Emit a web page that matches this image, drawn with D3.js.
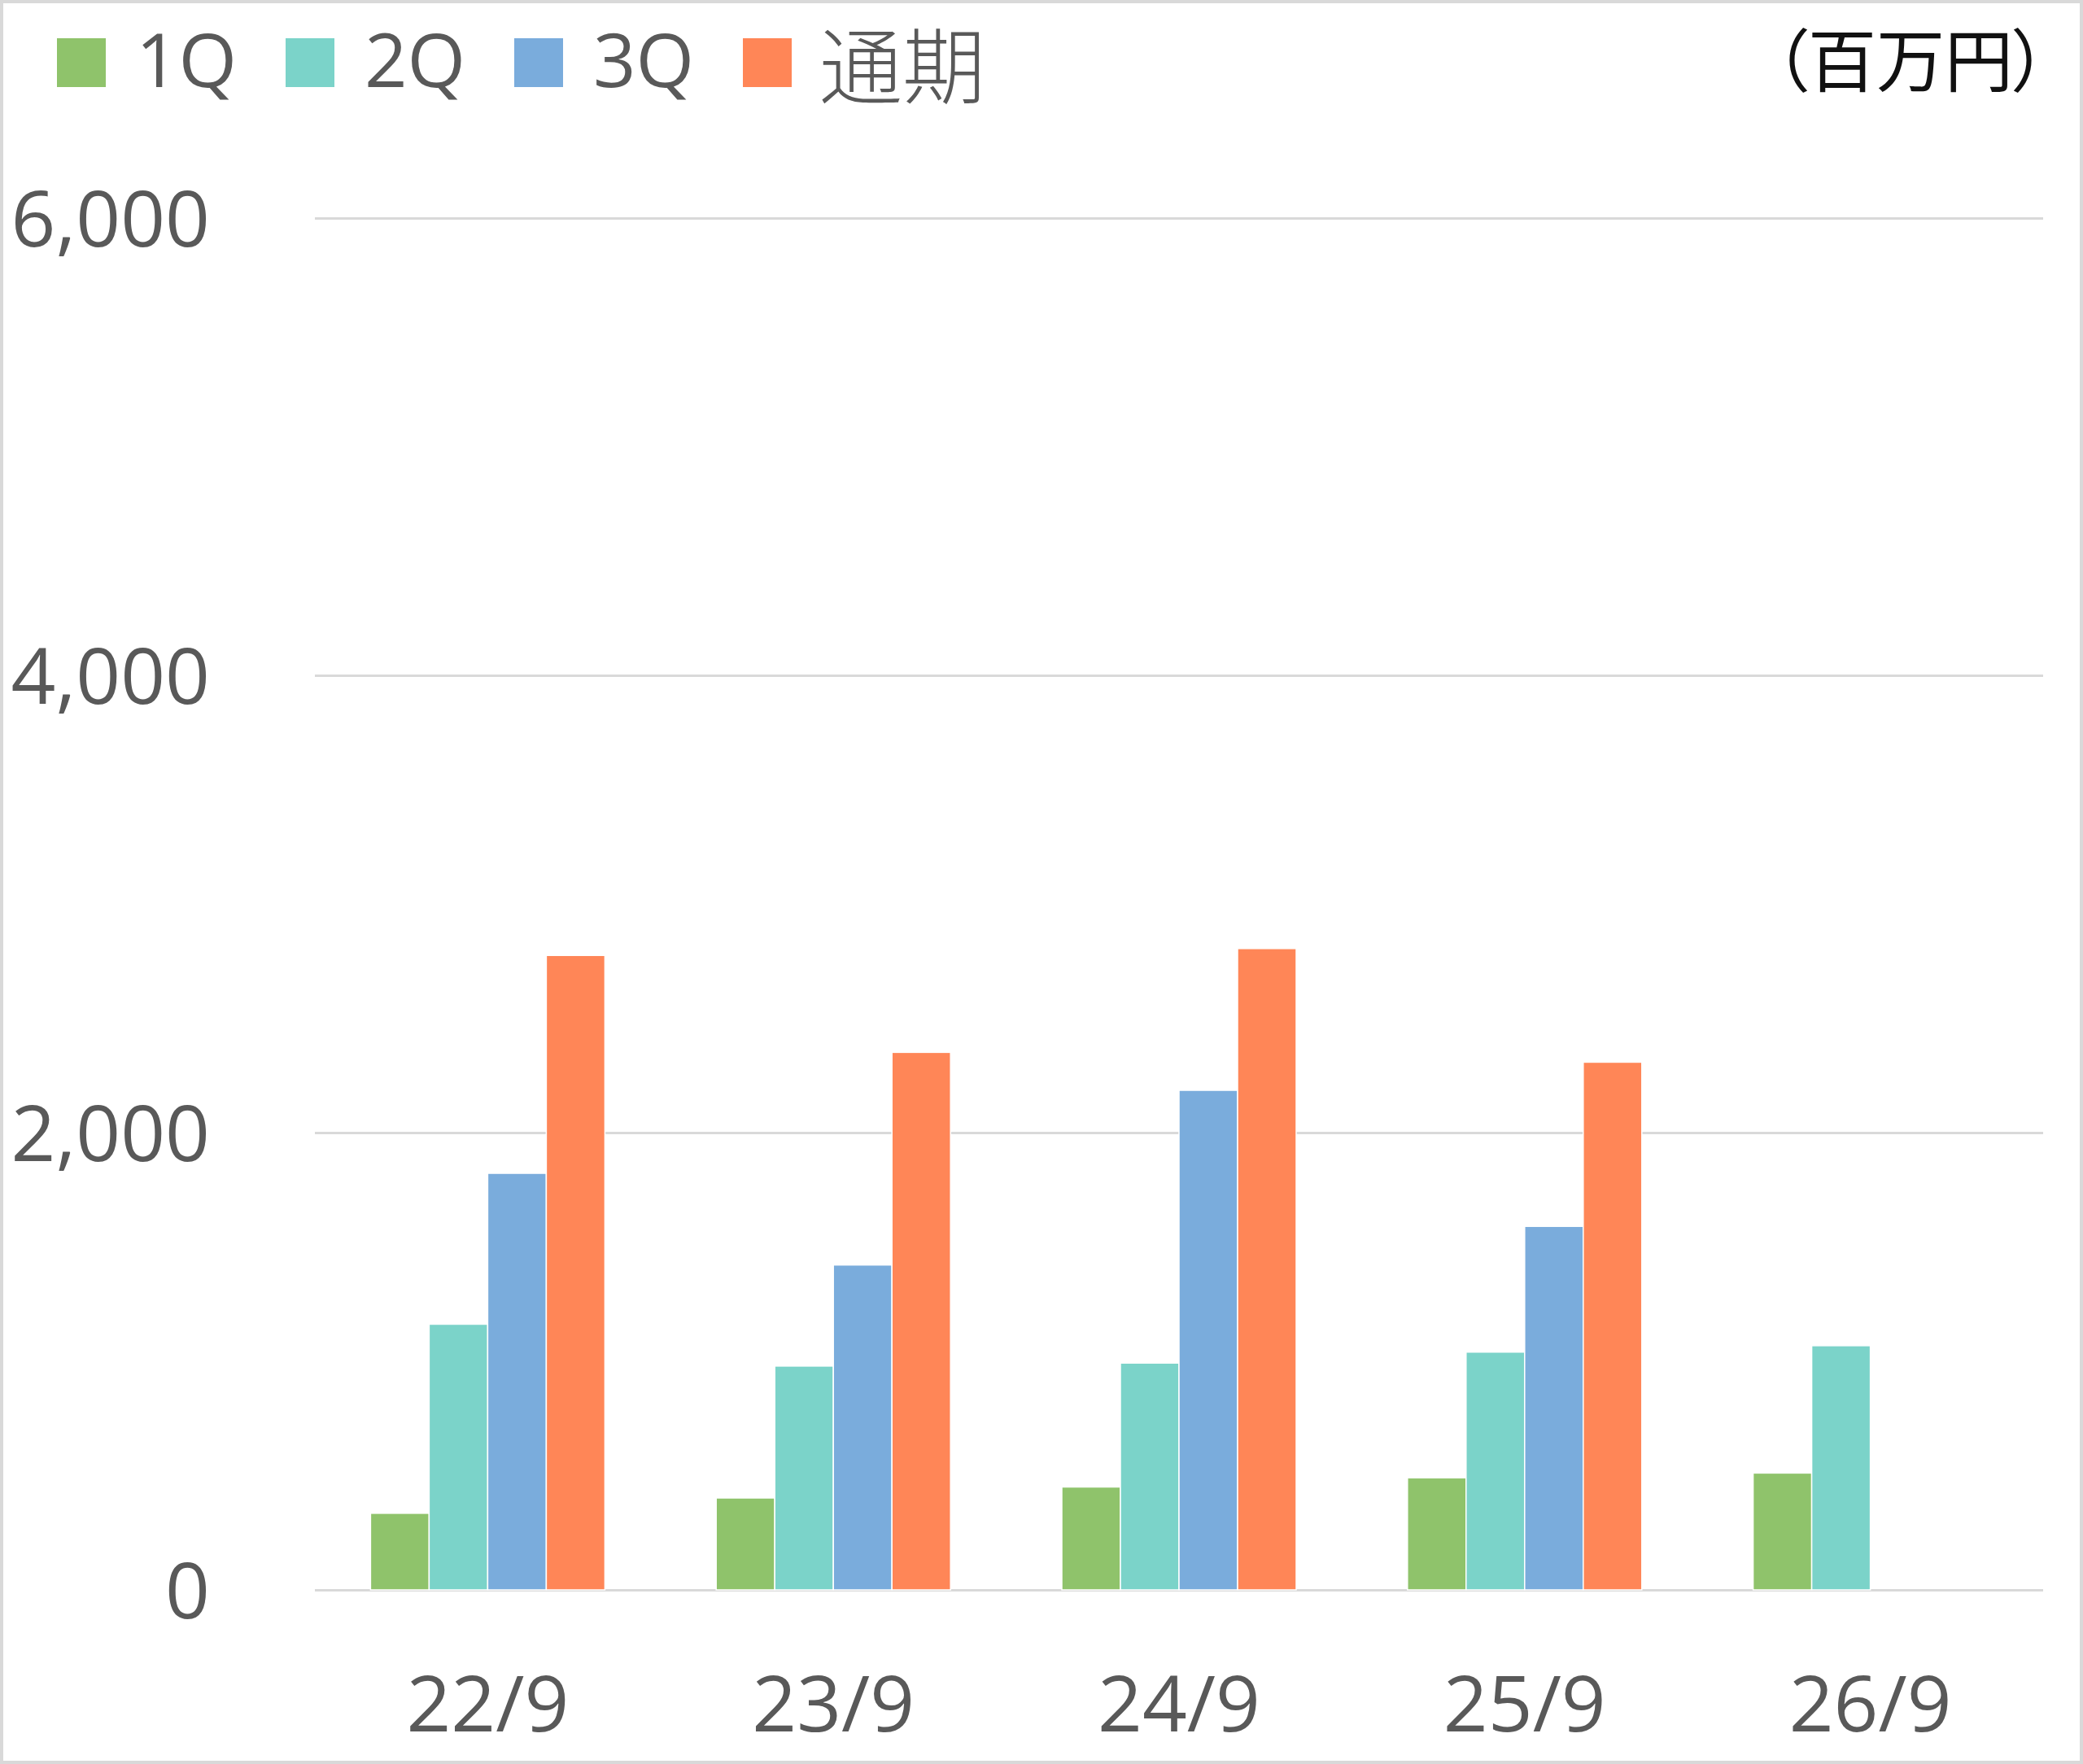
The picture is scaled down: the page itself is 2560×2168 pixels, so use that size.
<!DOCTYPE html>
<html>
  <head>
    <meta charset="utf-8">
    <script type="text/javascript" src="https://cdn.jsdelivr.net/npm/d3@7"></script>
    <style>
      body { margin: 0; background: #fff; }
    </style>
  </head>
  <body>
    <script type="text/javascript">

// data (百万円)
var periods = ["22/9", "23/9", "24/9", "25/9", "26/9"];
var seriesNames = ["1Q", "2Q", "3Q", "通期"];
var q1 = [335, 402, 450, 490, 511];
var q2 = [1162, 979, 992, 1040, 1068];
var q3 = [1822, 1421, 2185, 1590, null];
var fullYear = [2775, 2351, 2805, 2308, null];
var yTicks = [0, 2000, 4000, 6000];
var colors = ["#8FC36B", "#7BD3C9", "#7AACDC", "#FF8657"];

var w = 2560;
var h = 2168;
var plotLeft = 387, plotRight = 2511, plotTop = 268, plotBottom = 1954;

var svg =
  d3.select("body")
    .append("svg")
    .attr("width", w)
    .attr("height", h);

svg.append("rect")
    .attr("x", 2).attr("y", 2)
    .attr("width", w - 4).attr("height", h - 4)
    .attr("fill", "#fff")
    .attr("stroke", "#d9d9d9")
    .attr("stroke-width", 4);

var x0 = d3.scaleBand()
    .domain(periods)
    .range([plotLeft, plotRight])
    .paddingInner(0.322)
    .paddingOuter(0.161);

var x1 = d3.scaleBand()
    .domain(seriesNames)
    .range([0, x0.bandwidth()]);

var y = d3.scaleLinear()
    .domain([0, 6000])
    .range([plotBottom, plotTop]);

// y axis + gridlines
var yAxis = svg.append("g")
    .attr("transform", "translate(" + plotLeft + ",0)")
    .call(d3.axisLeft(y)
      .tickValues(yTicks)
      .tickFormat(d3.format(","))
      .tickSize(-(plotRight - plotLeft))
      .tickPadding(129));
yAxis.select(".domain").remove();
yAxis.selectAll("line")
    .attr("stroke", "#d9d9d9")
    .attr("stroke-width", 3);
yAxis.selectAll("text")
    .attr("fill", "#595959")
    .attr("dy", "0.36em")
    .style("font-family", "'Open Sans', 'Noto Sans', sans-serif")
    .style("font-size", "96px");

// x axis labels
var xAxis = svg.append("g")
    .attr("transform", "translate(0," + plotBottom + ")")
    .call(d3.axisBottom(x0).tickSize(0).tickPadding(0));
xAxis.select(".domain").remove();
xAxis.selectAll("text")
    .attr("fill", "#595959")
    .attr("y", 174)
    .attr("dy", 0)
    .style("font-family", "'Open Sans', 'Noto Sans', sans-serif")
    .style("font-size", "96px");

// bars
var allSeries = [q1, q2, q3, fullYear];
var rows = periods.map(function(p, i) {
  return seriesNames.map(function(s, j) {
    return { period: p, series: s, idx: j, value: allSeries[j][i] };
  }).filter(function(d) { return d.value != null; });
});

var groups =
  svg.selectAll("g.grp")
    .data(rows)
    .enter()
    .append("g")
    .attr("class", "grp")
    .attr("transform", function(d, i) { return "translate(" + x0(periods[i]) + ",0)"; });

groups.selectAll("rect")
    .data(function(d) { return d; })
    .enter()
    .append("rect")
    .attr("x", function(d) { return x1(d.series); })
    .attr("width", x1.bandwidth())
    .attr("y", function(d) { return y(d.value); })
    .attr("height", function(d) { return y(0) - y(d.value); })
    .attr("fill", function(d) { return colors[d.idx]; })
    .attr("stroke", "#ffffff")
    .attr("stroke-width", 1.5);

// legend
var legend =
  svg.selectAll("g.leg")
    .data(seriesNames)
    .enter()
    .append("g")
    .attr("class", "leg")
    .attr("transform", function(d, i) { return "translate(" + (70 + i * 281) + ",0)"; });

legend.append("rect")
    .attr("x", 0).attr("y", 47)
    .attr("width", 60).attr("height", 60)
    .attr("fill", function(d, i) { return colors[i]; });

legend.append("text")
    .attr("x", function(d, i) { return i == 3 ? 94 : 97; })
    .attr("y", function(d, i) { return i == 3 ? 120 : 107; })
    .attr("fill", "#595959")
    .style("font-family", function(d, i) { return i == 3 ? "'Noto Sans CJK JP', sans-serif" : "'Open Sans', 'Noto Sans', sans-serif"; })
    .style("font-weight", function(d, i) { return i == 3 ? 300 : 400; })
    .style("font-size", function(d, i) { return i == 3 ? "102px" : "92px"; })
    .text(function(d) { return d; });

// unit
svg.append("text")
    .attr("x", 2516)
    .attr("y", 106)
    .attr("text-anchor", "end")
    .attr("fill", "#111")
    .style("font-family", "'Noto Sans CJK JP', sans-serif")
    .style("font-size", "84px")
    .style("font-feature-settings", "'palt'")
    .text("（百万円）");

    </script>
  </body>
</html>
